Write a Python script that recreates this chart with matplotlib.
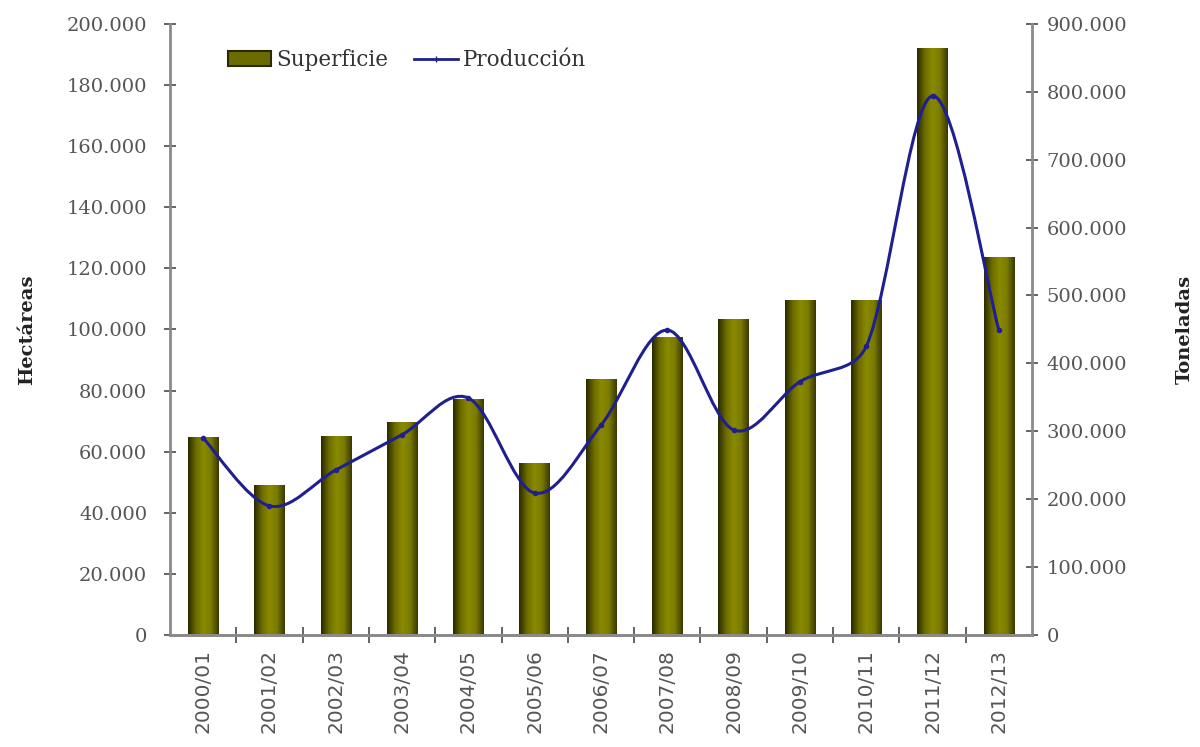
import matplotlib
matplotlib.use('Agg')
import matplotlib.pyplot as plt
import numpy as np
from matplotlib.path import Path
from matplotlib.patches import PathPatch, Patch
from matplotlib.lines import Line2D
from matplotlib.colors import LinearSegmentedColormap
from matplotlib.ticker import FuncFormatter, MultipleLocator

# datos
campanas = ['2000/01', '2001/02', '2002/03', '2003/04', '2004/05', '2005/06', '2006/07',
            '2007/08', '2008/09', '2009/10', '2010/11', '2011/12', '2012/13']
superficie = [64500, 48800, 65100, 69400, 77200, 56000, 83500,
              97500, 103400, 109400, 109400, 192000, 123500]   # hectáreas
produccion = [290000, 190000, 243000, 295000, 349000, 209000, 309000,
              449000, 302000, 373000, 425000, 794000, 449000]  # toneladas

gris = '#8a8a8a'
texto = '#4a4a4a'
azul = '#1f1f8f'

fig = plt.figure(figsize=(12, 7.47), dpi=100)
ax = fig.add_axes([0.1417, 0.15, 0.7183, 0.818])
ax2 = ax.twinx()

x = np.arange(len(campanas))
ancho = 0.46

# barras con degradado (oscuro en los bordes, claro en el centro)
cmap = LinearSegmentedColormap.from_list('oliva', ['#2a2a00', '#6b6b00', '#8a8a00', '#7a7a00', '#3a3a00'])
grad = np.linspace(0, 1, 64).reshape(1, -1)
for xi, h in zip(x, superficie):
    ax.imshow(grad, extent=[xi - ancho / 2, xi + ancho / 2, 0, h], aspect='auto',
              cmap=cmap, zorder=2, interpolation='bilinear')

ax.set_xlim(-0.5, len(campanas) - 0.5)
ax.set_ylim(0, 200000)
ax2.set_ylim(0, 900000)

# línea suavizada: Bezier cúbicas calculadas en píxeles, brazos limitados
pts = ax2.transData.transform(np.column_stack([x, produccion]).astype(float))
n = len(pts)
verts = [pts[0]]
codes = [Path.MOVETO]
for i in range(n - 1):
    p0, p1 = pts[max(i - 1, 0)], pts[i]
    p2, p3 = pts[i + 1], pts[min(i + 2, n - 1)]
    seg = np.hypot(*(p2 - p1))
    t1 = (p2 - p0) / 6
    t2 = (p3 - p1) / 6
    lim = 0.4 * seg
    if np.hypot(*t1) > lim:
        t1 = t1 * lim / np.hypot(*t1)
    if np.hypot(*t2) > lim:
        t2 = t2 * lim / np.hypot(*t2)
    verts += [p1 + t1, p2 - t2, p2]
    codes += [Path.CURVE4] * 3
verts = ax2.transData.inverted().transform(np.array(verts))
ax2.add_patch(PathPatch(Path(verts, codes), facecolor='none', edgecolor=azul, lw=2.2, zorder=3))
ax2.plot(x, produccion, linestyle='none', marker='o', markersize=3, color=azul, zorder=4)

# formato de los ejes
fmt = FuncFormatter(lambda v, p: f'{int(v):,}'.replace(',', '.'))
ax.yaxis.set_major_locator(MultipleLocator(20000))
ax2.yaxis.set_major_locator(MultipleLocator(100000))
ax.yaxis.set_major_formatter(fmt)
ax2.yaxis.set_major_formatter(fmt)

for a in (ax, ax2):
    for s in a.spines.values():
        s.set_color(gris)
        s.set_linewidth(2)
    a.spines['top'].set_visible(False)
ax2.spines['left'].set_visible(False)
ax.spines['right'].set_visible(False)

ax.tick_params(axis='y', direction='inout', length=9, width=1.2, color=texto,
               labelsize=14, labelcolor='#555555', pad=12)
ax2.tick_params(axis='y', direction='inout', length=9, width=1.2, color=texto,
                labelsize=14, labelcolor='#555555', pad=6)
for lab in ax.get_yticklabels() + ax2.get_yticklabels():
    lab.set_fontfamily('DejaVu Serif')

ax.set_xticks(x)
ax.set_xticklabels(campanas, rotation=90, fontsize=14.5, color='#555555', fontfamily='DejaVu Sans')
ax.set_xticks(np.arange(0.5, len(campanas) - 1, 1), minor=True)
ax.tick_params(axis='x', which='major', length=0, pad=10)
ax.tick_params(axis='x', which='minor', direction='inout', length=12, width=1.2, color=texto)

ax.set_ylabel('Hectáreas', fontsize=14, fontweight='bold', fontfamily='DejaVu Serif',
              color='#222222', labelpad=22)
ax2.set_ylabel('Toneladas', fontsize=14, fontweight='bold', fontfamily='DejaVu Serif',
               color='#222222', labelpad=35)

ax.set_zorder(1)
ax2.set_zorder(2)
ax.patch.set_visible(False)

# leyenda
handles = [Patch(facecolor='#6b6b00', edgecolor='#2a2a00', lw=1.5),
           Line2D([0], [0], color=azul, lw=2, marker='|', markersize=5)]
leg = ax2.legend(handles, ['Superficie', 'Producción'], loc='upper left',
                 bbox_to_anchor=(0.045, 0.99), ncol=2, frameon=False,
                 prop={'family': 'DejaVu Serif', 'size': 15.5}, handlelength=2.0,
                 handletextpad=0.25, columnspacing=1.2)
for t in leg.get_texts():
    t.set_color('#333333')

fig.savefig('out.png', dpi=100)
